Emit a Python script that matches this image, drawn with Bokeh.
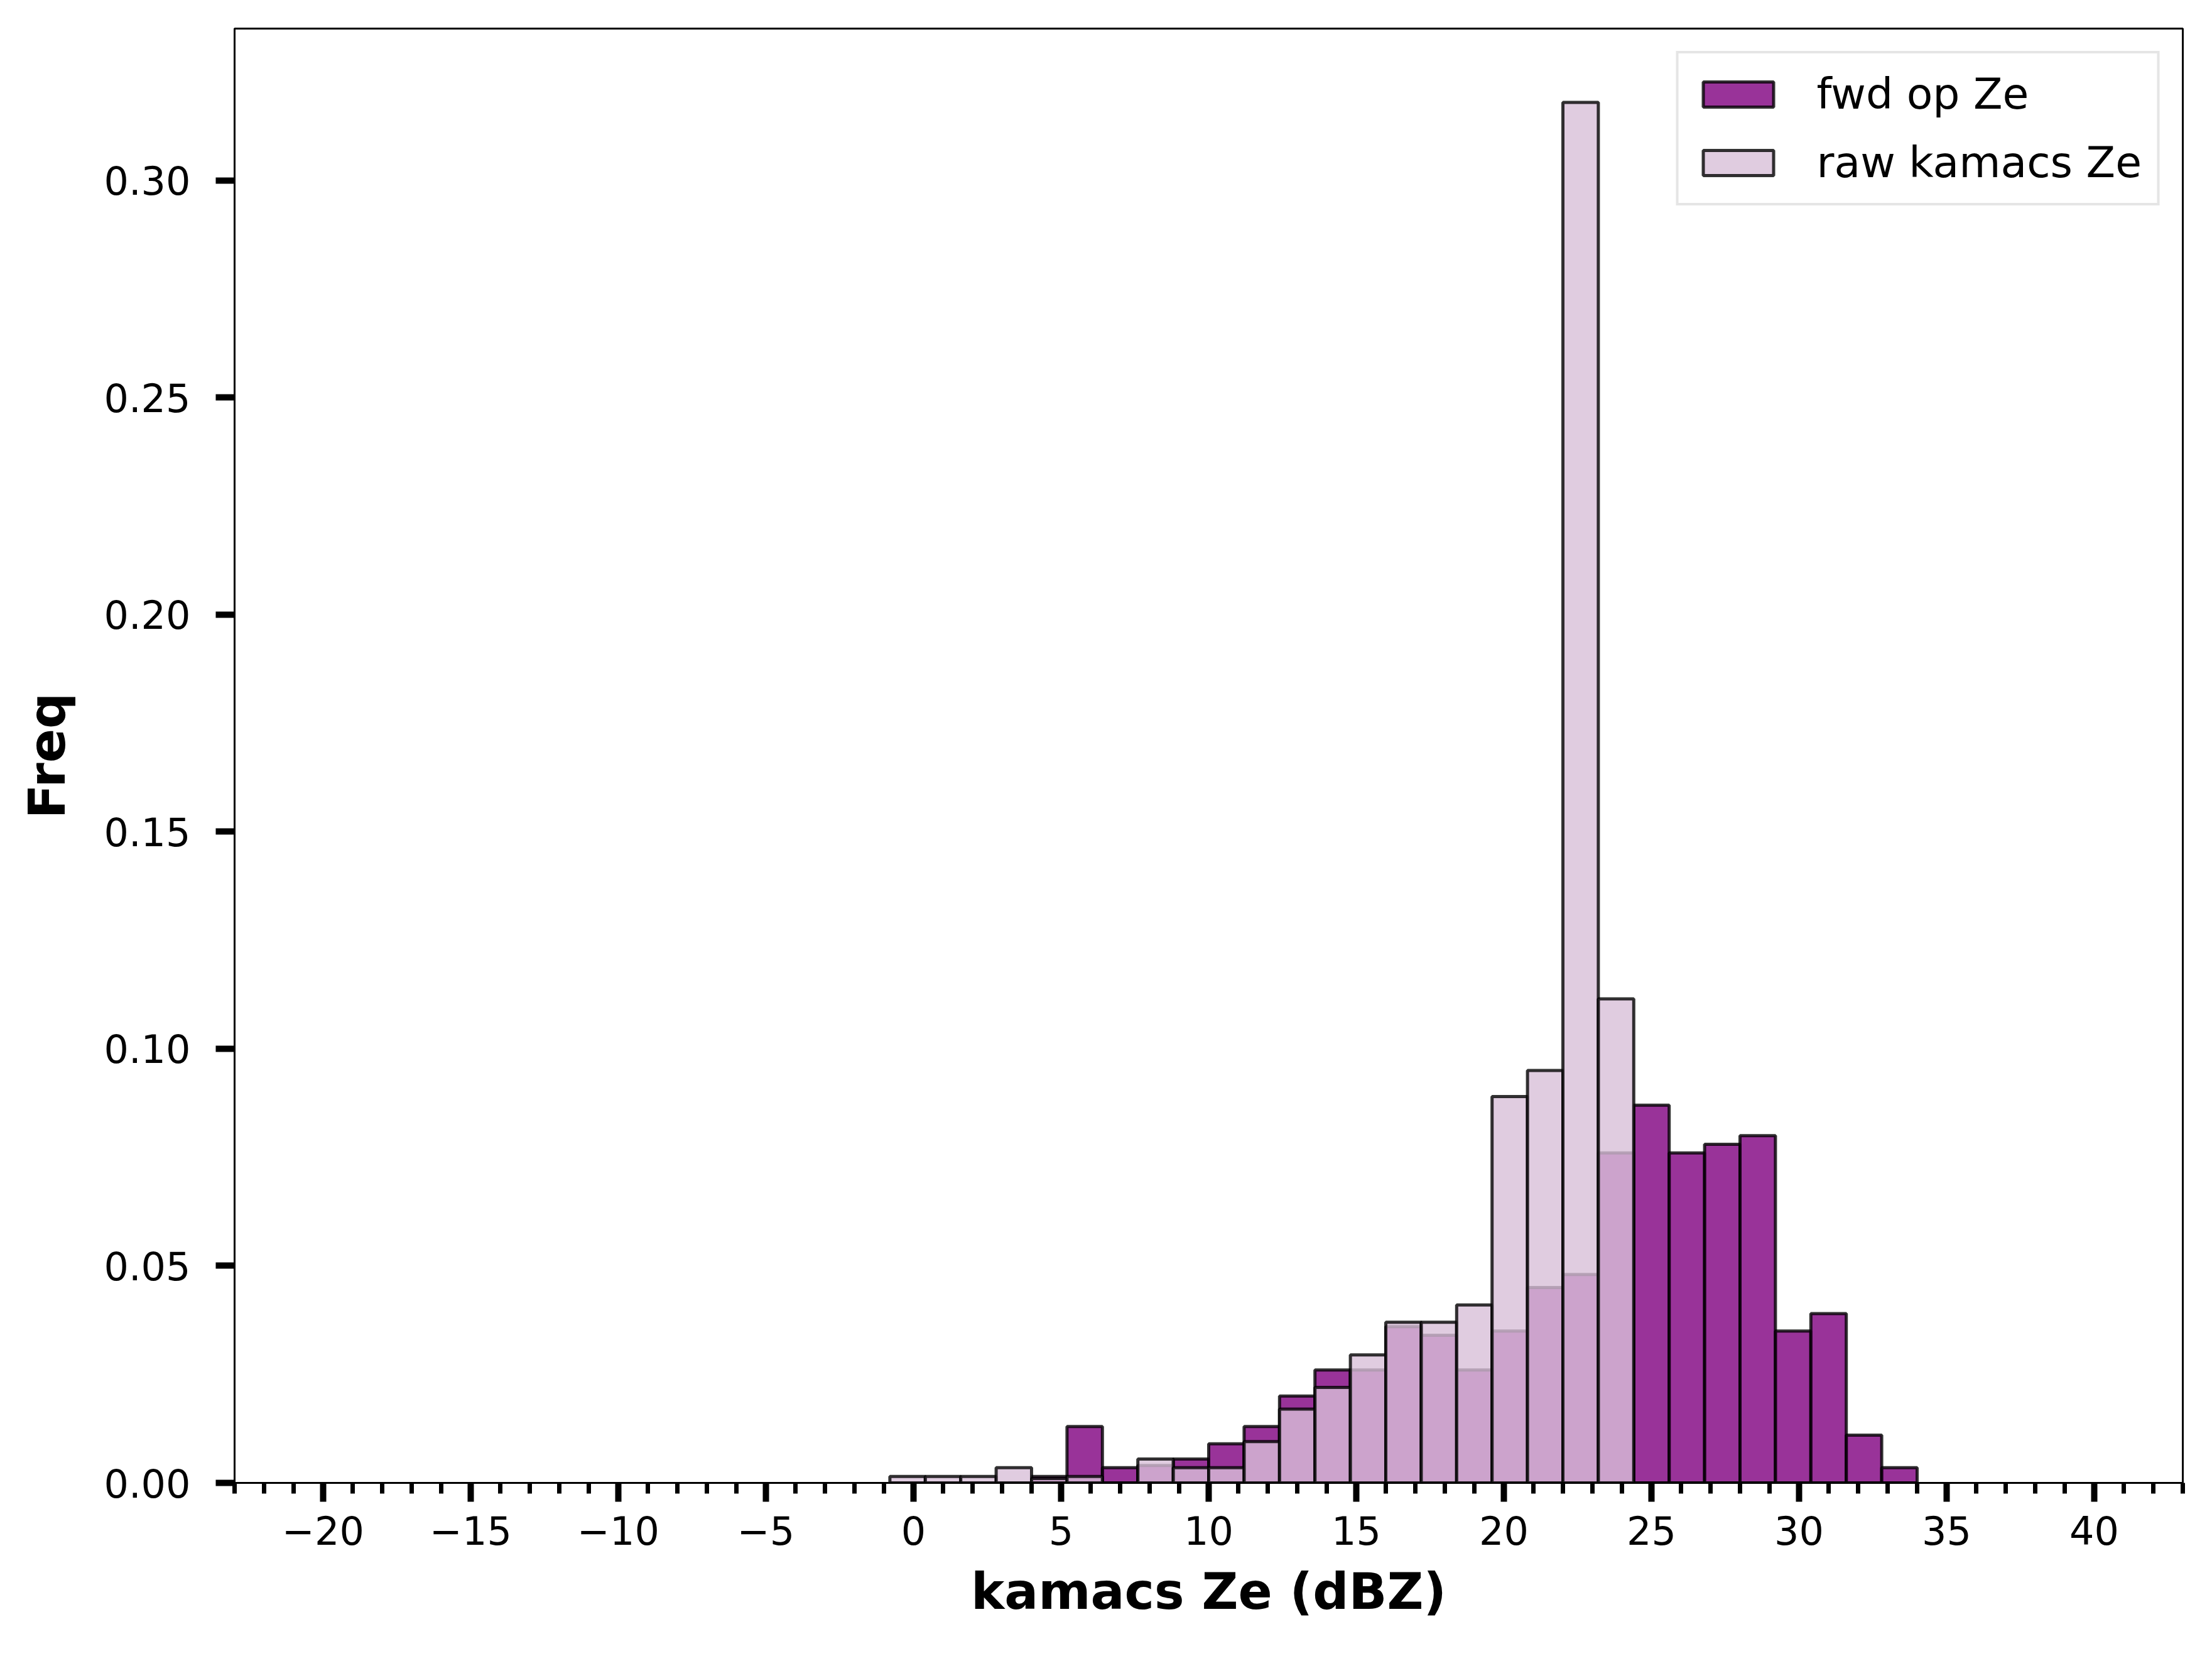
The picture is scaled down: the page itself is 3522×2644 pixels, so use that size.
from bokeh.plotting import figure
from bokeh.models import FixedTicker, NumeralTickFormatter, Range1d, Legend, LegendItem
from bokeh.embed import file_html
from bokeh.resources import INLINE

edges = [-0.8 + 1.2 * i for i in range(30)]
fwd = [0, 0, 0, 0, 0.0015, 0.013, 0.0035, 0.004, 0.0055, 0.009, 0.013, 0.020, 0.026, 0.026,
       0.036, 0.034, 0.026, 0.035, 0.045, 0.048, 0.076, 0.087, 0.076, 0.078, 0.080, 0.035,
       0.039, 0.011, 0.0035]
raw = [0.0015, 0.0015, 0.0015, 0.0035, 0.001, 0.0015, 0, 0.0055, 0.0035, 0.0035, 0.0095,
       0.017, 0.022, 0.0295, 0.037, 0.037, 0.041, 0.089, 0.095, 0.318, 0.1115, 0, 0, 0, 0,
       0, 0, 0, 0]

W, H = 3506, 2630
p = figure(width=W, height=H, output_backend="svg", toolbar_location=None,
           x_range=Range1d(-23, 43), y_range=Range1d(0, 0.335),
           min_border_left=373, min_border_right=31, min_border_top=45, min_border_bottom=270)
p.grid.visible = False
p.outline_line_color = "black"
p.outline_line_width = 3

left, right = edges[:-1], edges[1:]
r1 = p.quad(left=left, right=right, bottom=0, top=fwd, fill_color="purple", fill_alpha=0.8,
            line_color="black", line_alpha=0.8, line_width=5)
r2 = p.quad(left=left, right=right, bottom=0, top=raw, fill_color="thistle", fill_alpha=0.8,
            line_color="black", line_alpha=0.8, line_width=5)

p.xaxis.ticker = FixedTicker(ticks=list(range(-20, 41, 5)), minor_ticks=list(range(-23, 44)))
p.yaxis.ticker = FixedTicker(ticks=[0, 0.05, 0.10, 0.15, 0.20, 0.25, 0.30])
p.yaxis.formatter = NumeralTickFormatter(format="0.00")
for ax in (p.xaxis, p.yaxis):
    ax.major_label_text_font = "DejaVu Sans"
    ax.major_label_text_font_size = "62px"
    ax.major_label_text_color = "black"
    ax.axis_label_text_font = "DejaVu Sans"
    ax.axis_label_text_font_size = "80px"
    ax.axis_label_text_font_style = "bold"
    ax.axis_label_text_color = "black"
    ax.major_tick_line_width = 10
    ax.major_tick_out = 30
    ax.major_tick_in = 0
    ax.minor_tick_line_width = 7
    ax.minor_tick_out = 17
    ax.minor_tick_in = 0
    ax.axis_line_width = 3
p.xaxis.major_label_standoff = 22
p.yaxis.major_label_standoff = 40
p.yaxis.minor_tick_line_color = None
p.xaxis.axis_label = "kamacs Ze (dBZ)"
p.yaxis.axis_label = "Freq"
p.xaxis.axis_label_standoff = 25
p.yaxis.axis_label_standoff = 40

leg = Legend(items=[LegendItem(label="fwd op Ze", renderers=[r1]),
                    LegendItem(label="raw kamacs Ze", renderers=[r2])],
             location="top_right")
leg.label_text_font = "DejaVu Sans"
leg.label_text_font_size = "68px"
leg.label_text_color = "black"
leg.glyph_width = 140
leg.glyph_height = 50
leg.label_standoff = 55
leg.spacing = 30
leg.padding = 25
leg.margin = 36
leg.border_line_color = "#cccccc"
leg.border_line_width = 4
p.add_layout(leg)

open("out.html", "w").write(file_html(p, INLINE))
